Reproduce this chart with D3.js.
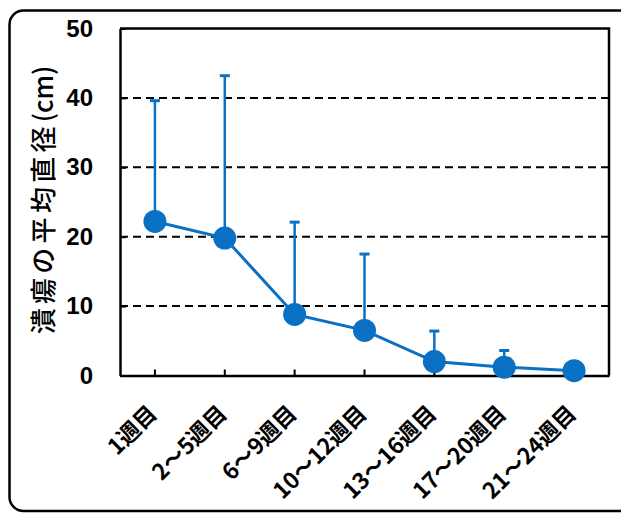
<!DOCTYPE html>
<html>
<head>
<meta charset="utf-8">
<script src="https://cdn.jsdelivr.net/npm/d3@7"></script>
<style>
  html, body { margin: 0; padding: 0; background: #fff; }
  svg { display: block; }
</style>
</head>
<body>
<svg id="chart" width="621" height="513"></svg>
<script>
// Periods after onset and the mean ulcer diameter with its upper error
const periods = ["1週目", "2～5週目", "6～9週目", "10～12週目", "13～16週目", "17～20週目", "21～24週目"];
const meanDiameter = [22.2, 19.8, 8.8, 6.5, 2.0, 1.2, 0.7];
const upperError = [39.6, 43.2, 22.1, 17.5, 6.4, 3.6, 1.8];
const yTicks = [0, 10, 20, 30, 40, 50];
const yTitle = "潰瘍の平均直径";
const yUnit = "(cm)";

const blue = "#0a70c4";
const svg = d3.select("#chart");

// Rounded outer frame
svg.append("rect")
  .attr("x", 9.5).attr("y", 10.5)
  .attr("width", 640).attr("height", 500.5)
  .attr("rx", 14).attr("ry", 14)
  .attr("fill", "none").attr("stroke", "#000").attr("stroke-width", 2.5);

const plot = { left: 120, top: 28.5, right: 609, bottom: 375.5 };

const x = d3.scaleBand()
  .domain(periods)
  .range([plot.left, plot.right]);

const y = d3.scaleLinear()
  .domain([0, 50])
  .range([plot.bottom, plot.top]);

const cx = d => x(d) + x.bandwidth() / 2;

// Dashed gridlines
svg.append("g")
  .selectAll("line")
  .data(yTicks.filter(t => t > 0 && t < 50))
  .join("line")
  .attr("x1", plot.left).attr("x2", plot.right)
  .attr("y1", d => y(d)).attr("y2", d => y(d))
  .attr("stroke", "#000").attr("stroke-width", 2)
  .attr("stroke-dasharray", "8,5");

// Plot box (top and right edges)
svg.append("path")
  .attr("d", `M${plot.left},${plot.top}H${plot.right}V${plot.bottom}`)
  .attr("fill", "none").attr("stroke", "#000").attr("stroke-width", 2.5);

// Y axis with inward ticks
const yAxis = svg.append("g")
  .attr("transform", `translate(${plot.left},0)`)
  .call(d3.axisLeft(y).tickValues(yTicks).tickSize(-6).tickPadding(27).tickSizeOuter(0));
yAxis.select(".domain").attr("stroke-width", 2.5);
yAxis.selectAll(".tick line").attr("stroke-width", 2);
yAxis.selectAll(".tick text")
  .attr("font-family", "Liberation Sans, Arial, sans-serif")
  .attr("font-weight", "bold")
  .attr("font-size", 24)
  .attr("fill", "#000");

// X axis with inward ticks and rotated labels
const xAxis = svg.append("g")
  .attr("transform", `translate(0,${plot.bottom})`)
  .call(d3.axisBottom(x).tickSize(-6).tickSizeOuter(0));
xAxis.select(".domain").attr("stroke-width", 2.5);
xAxis.selectAll(".tick line").attr("stroke-width", 2);
xAxis.selectAll(".tick text")
  .attr("font-family", "Noto Sans CJK JP, sans-serif")
  .attr("font-weight", "bold")
  .attr("font-size", 22.5)
  .attr("fill", "#000")
  .attr("text-anchor", "end")
  .attr("y", 0).attr("dy", "0.35em")
  .attr("transform", "translate(-2,34) rotate(-45)");

// Y axis title: spaced Japanese words followed by the unit
const title = svg.append("text")
  .attr("transform", "translate(41,200) rotate(-90)")
  .attr("text-anchor", "middle")
  .attr("dominant-baseline", "central")
  .attr("font-family", "Noto Sans CJK JP, sans-serif")
  .attr("font-weight", 500)
  .attr("font-size", 26)
  .attr("fill", "#000");
title.append("tspan").attr("letter-spacing", 4.3).text(yTitle);
title.append("tspan").text(yUnit);

// Upper error bars
const errs = svg.append("g");
errs.selectAll("line.stem")
  .data(periods)
  .join("line")
  .attr("class", "stem")
  .attr("x1", d => cx(d)).attr("x2", d => cx(d))
  .attr("y1", (d, i) => y(meanDiameter[i]))
  .attr("y2", (d, i) => y(upperError[i]))
  .attr("stroke", blue).attr("stroke-width", 2.5);
errs.selectAll("line.cap")
  .data(periods)
  .join("line")
  .attr("class", "cap")
  .attr("x1", d => cx(d) - 5).attr("x2", d => cx(d) + 5)
  .attr("y1", (d, i) => y(upperError[i]))
  .attr("y2", (d, i) => y(upperError[i]))
  .attr("stroke", blue).attr("stroke-width", 3);

// Mean line
svg.append("path")
  .datum(periods)
  .attr("d", d3.line().x(d => cx(d)).y((d, i) => y(meanDiameter[i])))
  .attr("fill", "none").attr("stroke", blue).attr("stroke-width", 3);

// Markers
svg.append("g")
  .selectAll("circle")
  .data(periods)
  .join("circle")
  .attr("cx", d => cx(d))
  .attr("cy", (d, i) => y(meanDiameter[i]))
  .attr("r", 11.5)
  .attr("fill", blue);
</script>
</body>
</html>
